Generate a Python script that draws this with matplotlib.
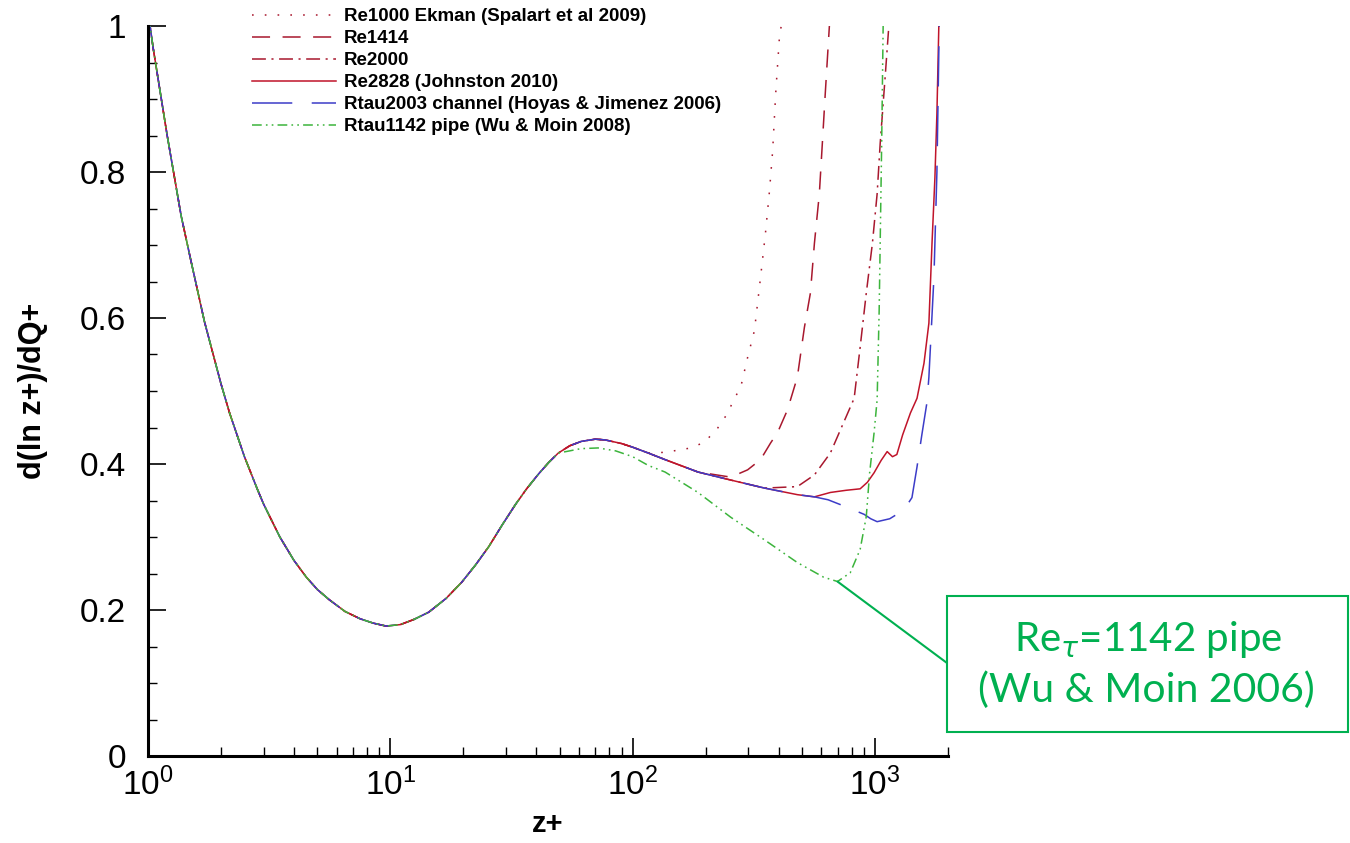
import numpy as np
import matplotlib
matplotlib.use('Agg')
import matplotlib.pyplot as plt
from matplotlib.patches import Rectangle, ConnectionPatch
from matplotlib.ticker import LogLocator, MultipleLocator

plt.rcParams['font.family'] = ['Liberation Sans', 'DejaVu Sans']
plt.rcParams['mathtext.fontset'] = 'dejavusans'
plt.rcParams['lines.scale_dashes'] = False

# near-wall part shared by every case (z+, d(ln z+)/dQ+)
z_wall = [1.0, 1.05, 1.2, 1.37, 1.5, 1.71, 2.0, 2.17, 2.5, 2.83, 3.0, 3.5, 4.0, 4.5,
          5.0, 5.6, 6.5, 7.5, 8.5, 9.6, 11, 12.5, 14.4, 17, 19.7, 22.5, 25.5, 29,
          32.9, 36.5, 40.8, 45, 49.3]
g_wall = [1.02, 0.97, 0.85, 0.74, 0.68, 0.595, 0.51, 0.47, 0.41, 0.365, 0.345, 0.30,
          0.268, 0.245, 0.228, 0.214, 0.198, 0.188, 0.182, 0.178, 0.180, 0.187, 0.197,
          0.216, 0.238, 0.262, 0.287, 0.317, 0.345, 0.366, 0.386, 0.402, 0.415]

# overlap region for the channel / Ekman cases
z_log = [55, 61.4, 70, 77, 90, 100, 116, 136, 186, 254, 350, 478, 562]
g_log = [0.425, 0.431, 0.434, 0.433, 0.428, 0.423, 0.415, 0.406, 0.389, 0.378,
         0.367, 0.358, 0.355]

z_re1000 = [136, 154, 174, 198, 224, 247, 261, 279, 298, 318, 337, 353, 367, 378, 389, 403, 410]
g_re1000 = [0.416, 0.419, 0.422, 0.430, 0.449, 0.470, 0.488, 0.505, 0.546, 0.583,
            0.656, 0.716, 0.775, 0.829, 0.907, 0.984, 1.0]

z_re1414 = [254, 298, 337, 371, 396, 435, 478, 511, 541, 562, 589, 606, 623, 648]
g_re1414 = [0.382, 0.392, 0.406, 0.429, 0.443, 0.474, 0.519, 0.587, 0.634, 0.702,
            0.770, 0.839, 0.907, 1.0]

z_re2000 = [478, 562, 654, 740, 820, 868, 920, 975, 1020, 1050, 1100, 1140]
g_re2000 = [0.369, 0.385, 0.415, 0.456, 0.49, 0.56, 0.634, 0.702, 0.770, 0.839, 0.929, 1.0]

z_re2828 = [654, 760, 868, 930, 991, 1060, 1122, 1180, 1230, 1300, 1400, 1490, 1592,
            1668, 1718, 1766, 1800, 1833]
g_re2828 = [0.361, 0.364, 0.366, 0.375, 0.388, 0.405, 0.417, 0.410, 0.413, 0.440,
            0.470, 0.490, 0.538, 0.593, 0.702, 0.792, 0.880, 1.0]

z_chan = [640, 750, 902, 960, 1020, 1150, 1315, 1420, 1490, 1560, 1637, 1668, 1750, 1800, 1840]
g_chan = [0.351, 0.342, 0.331, 0.325, 0.321, 0.325, 0.337, 0.354, 0.396, 0.44,
          0.484, 0.519, 0.656, 0.80, 1.0]

z_pipe = [55, 61, 72, 85, 100, 116, 136, 186, 254, 350, 478, 613, 700, 790, 868,
          920, 950, 991, 1020, 1040, 1065, 1080]
g_pipe = [0.418, 0.421, 0.422, 0.418, 0.41, 0.398, 0.389, 0.361, 0.327, 0.296,
          0.265, 0.245, 0.239, 0.251, 0.283, 0.328, 0.388, 0.443, 0.488, 0.611,
          0.839, 1.0]

labels = ['Re1000 Ekman (Spalart et al 2009)', 'Re1414', 'Re2000',
          'Re2828 (Johnston 2010)', 'Rtau2003 channel (Hoyas & Jimenez 2006)',
          'Rtau1142 pipe (Wu & Moin 2008)']

def join(z_a, g_a, z_b, g_b):
    # splice a case-specific tail onto a shared profile
    za, ga = np.array(z_a), np.array(g_a)
    keep = za < z_b[0]
    return np.concatenate([za[keep], z_b]), np.concatenate([ga[keep], g_b])

z_core = z_wall + z_log
g_core = g_wall + g_log

red = '#a8182e'
series = [
    (join(z_core, g_core, z_re1000, g_re1000), red, (0, (1.2, 8))),
    (join(z_core, g_core, z_re1414, g_re1414), red, (0, (13, 9))),
    (join(z_core, g_core, z_re2000, g_re2000), red, (0, (10, 4, 1.5, 4))),
    (join(z_core, g_core, z_re2828, g_re2828), '#c0142a', '-'),
    (join(z_core, g_core, z_chan, g_chan), '#3c3cc8', (0, (29, 14))),
    (join(z_wall, g_wall, z_pipe, g_pipe), '#3cb43c', (0, (7, 3, 1.2, 3, 1.2, 3))),
]

fig = plt.figure(figsize=(13.5, 8.43), dpi=100)
ax = fig.add_axes([148 / 1350, 1 - 756 / 843, 800 / 1350, 730 / 843])

for ((zz, gg), col, ls), lab in zip(series, labels):
    ax.plot(zz, gg, color=col, linestyle=ls, linewidth=1.1, label=lab)

ax.set_xscale('log')
ax.set_xlim(1, 2000)
ax.set_ylim(0, 1)
ax.xaxis.set_major_locator(LogLocator(base=10))
ax.xaxis.set_minor_locator(LogLocator(base=10, subs=np.arange(2, 10)))
ax.yaxis.set_major_locator(MultipleLocator(0.2))
ax.yaxis.set_minor_locator(MultipleLocator(0.05))
ax.yaxis.set_major_formatter(plt.FuncFormatter(lambda v, p: '%g' % round(v, 2)))

for s in ['top', 'right']:
    ax.spines[s].set_visible(False)
for s in ['left', 'bottom']:
    ax.spines[s].set_linewidth(2.2)

ax.tick_params(which='major', direction='in', length=13, width=1.2, labelsize=24)
ax.tick_params(which='minor', direction='in', length=6.5, width=1.0)
ax.tick_params(axis='y', which='major', pad=16)
ax.tick_params(axis='x', which='major', pad=8)

ax.set_xlabel('z+', fontsize=21, fontweight='bold', labelpad=6)
ax.set_ylabel('d(ln z+)/dQ+', fontsize=22, fontweight='bold', labelpad=23)

leg = ax.legend(loc='upper left', bbox_to_anchor=(252 / 1350, 1 - 8 / 843),
                bbox_transform=fig.transFigure, frameon=False,
                prop={'size': 13.5, 'weight': 'bold'}, handlelength=4.5,
                handletextpad=0.4, labelspacing=0.26, borderpad=0, borderaxespad=0)

# callout for the pipe case
box_col = '#00b050'
fig.patches.append(Rectangle((947 / 1350, 1 - 732 / 843), 401 / 1350, 136 / 843,
                             transform=fig.transFigure, fill=False,
                             edgecolor=box_col, linewidth=1.5))
con = ConnectionPatch(xyA=(700, 0.239), coordsA=ax.transData,
                      xyB=(947 / 1350, 1 - 663 / 843), coordsB=fig.transFigure,
                      color=box_col, linewidth=1.5)
fig.add_artist(con)
fig.text(1148 / 1350, 1 - 640 / 843, r'Re$_{\tau}$=1142 pipe', color=box_col,
         fontsize=29, family=['Lato', 'DejaVu Sans'], ha='center', va='center')
fig.text(1146 / 1350, 1 - 690 / 843, '(Wu & Moin 2006)', color=box_col,
         fontsize=29.5, family=['Lato', 'DejaVu Sans'], ha='center', va='center')

fig.savefig('out.png', dpi=100)
